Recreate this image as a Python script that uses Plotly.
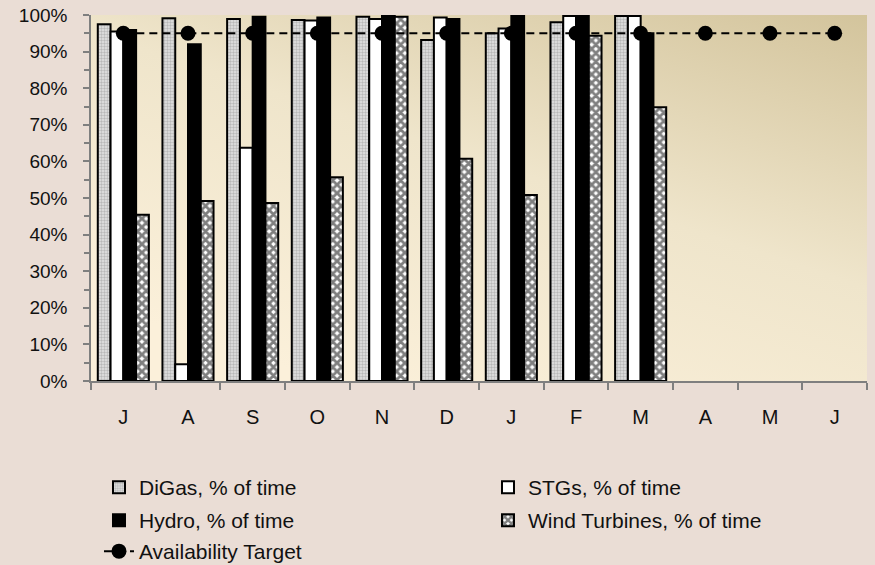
import base64
import plotly.graph_objects as go

# ---- data ----
categories = ["Jul", "Aug", "Sep", "Oct", "Nov", "Dec", "Jan", "Feb", "Mar", "Apr", "May", "Jun"]
month_labels = ["J", "A", "S", "O", "N", "D", "J", "F", "M", "A", "M", "J"]
digas = [97.5, 99.1, 98.9, 98.6, 99.5, 93.2, 95.0, 98.0, 99.7, None, None, None]
stgs = [95.5, 4.6, 63.7, 98.5, 98.9, 99.3, 96.3, 99.7, 99.7, None, None, None]
hydro = [95.9, 92.0, 99.5, 99.3, 99.7, 98.9, 99.8, 99.8, 95.0, None, None, None]
wind = [45.4, 49.2, 48.6, 55.7, 99.5, 60.7, 50.8, 94.3, 74.8, None, None, None]
target = [95, 95, 95, 95, 95, 95, 95, 95, 95, 95, 95, 95]

FONT = "Liberation Sans, Arial, sans-serif"
PAPER = "#EADDD5"

fig = go.Figure()

common_line = dict(color="black", width=2)

fig.add_trace(go.Bar(
    x=categories, y=digas, name="DiGas, % of time", legend="legend",
    marker=dict(color="#DCDCDC", line=common_line,
                pattern=dict(shape=".", fgcolor="#8C8C8C", bgcolor="#E4E4E4",
                             size=3, solidity=0.5)),
))
fig.add_trace(go.Bar(
    x=categories, y=stgs, name="STGs, % of time", legend="legend",
    marker=dict(color="white", line=common_line),
))
fig.add_trace(go.Bar(
    x=categories, y=hydro, name="Hydro, % of time", legend="legend2",
    marker=dict(color="black", line=common_line),
))
fig.add_trace(go.Bar(
    x=categories, y=wind, name="Wind Turbines, % of time", legend="legend2",
    marker=dict(color="white", line=common_line,
                pattern=dict(shape="x", fgcolor="#000000", bgcolor="#FFFFFF",
                             size=6, solidity=0.72)),
))
fig.add_trace(go.Scatter(
    x=categories, y=target, name="Availability Target", legend="legend3",
    mode="lines+markers",
    line=dict(color="black", width=2, dash="8px,5px"),
    marker=dict(color="black", size=15),
))

svg = (
    '<svg xmlns="http://www.w3.org/2000/svg" width="100" height="100" '
    'viewBox="0 0 100 100" preserveAspectRatio="none">'
    '<defs><linearGradient id="g" x1="1" y1="0" x2="0.3" y2="1">'
    '<stop offset="0" stop-color="#D3C49C"/>'
    '<stop offset="0.5" stop-color="#EFE5CB"/>'
    '<stop offset="1" stop-color="#FBF0DA"/>'
    '</linearGradient></defs>'
    '<rect x="0" y="0" width="100" height="100" fill="url(#g)"/></svg>'
)
src = "data:image/svg+xml;base64," + base64.b64encode(svg.encode()).decode()

leg_common = dict(orientation="h", xanchor="left", yanchor="top", x=0.0103,
                  entrywidth=344, font=dict(family=FONT, size=21, color="#111111"),
                  bgcolor="rgba(0,0,0,0)", traceorder="normal")

fig.update_layout(
    width=875, height=565,
    margin=dict(l=91, r=8, t=15, b=184, autoexpand=False),
    paper_bgcolor=PAPER,
    plot_bgcolor="rgba(0,0,0,0)",
    barmode="group", bargap=0.21, bargroupgap=0,
    font=dict(family=FONT, size=20, color="#111111"),
    images=[dict(source=src, xref="paper", yref="paper", x=0, y=1,
                 sizex=1, sizey=1, xanchor="left", yanchor="top",
                 sizing="stretch", layer="below")],
    legend=dict(y=-0.2350, **leg_common),
    legend2=dict(y=-0.3252, **leg_common),
    legend3=dict(y=-0.4099, **leg_common),
    xaxis=dict(
        type="category", tickmode="array", tickvals=categories, ticktext=month_labels,
        range=[-0.5, 11.5],
        tickson="boundaries", ticks="outside", ticklen=7, tickwidth=1.5,
        tickcolor="#7F7F7F", showline=True, linecolor="#7F7F7F", linewidth=1.5,
        showgrid=False, zeroline=False, ticklabelstandoff=17,
        tickfont=dict(family=FONT, size=20, color="#111111"),
    ),
    yaxis=dict(
        range=[0, 100], dtick=10, ticksuffix="%", ticks="outside", ticklen=6,
        tickwidth=1.5, tickcolor="#7F7F7F", showline=True, linecolor="#7F7F7F",
        linewidth=1.5, showgrid=False, zeroline=False, ticklabelstandoff=12,
        minor=dict(dtick=5, ticks="outside", ticklen=5, tickwidth=1.5,
                   tickcolor="#7F7F7F", showgrid=False),
        tickfont=dict(family=FONT, size=19, color="#111111"),
    ),
)

fig.write_html(
    "out.html",
    config={"displayModeBar": False},
    post_script="document.body.style.margin='0';document.body.style.overflow='hidden';",
)
